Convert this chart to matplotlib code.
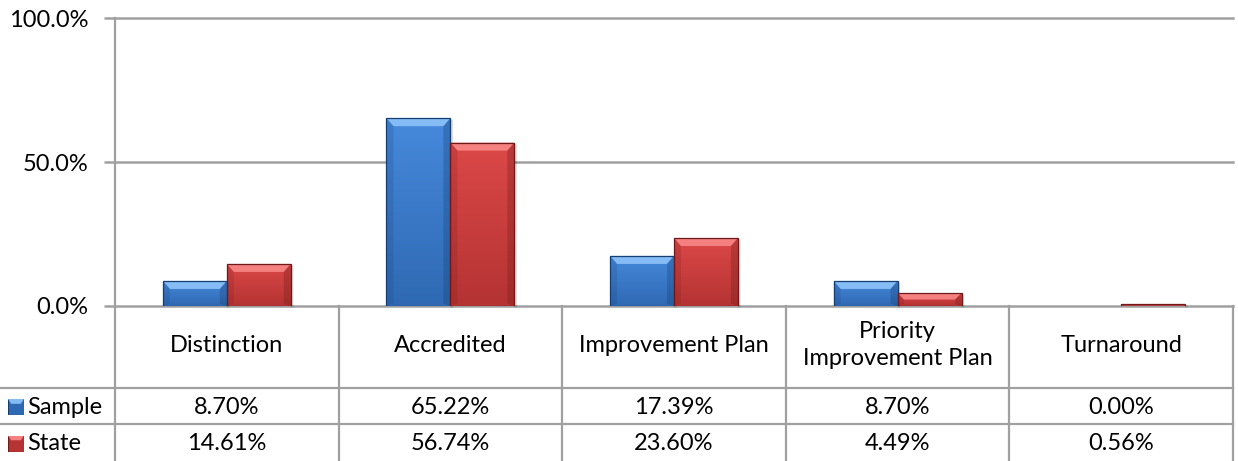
import matplotlib.pyplot as plt
from matplotlib.patches import Polygon
from matplotlib.colors import LinearSegmentedColormap
import numpy as np

plt.rcParams['font.family'] = ['Lato', 'DejaVu Sans']

categories = ['Distinction', 'Accredited', 'Improvement Plan',
              'Priority\nImprovement Plan', 'Turnaround']
sample = [8.70, 65.22, 17.39, 8.70, 0.00]
state = [14.61, 56.74, 23.60, 4.49, 0.56]
series_names = ['Sample', 'State']
yticks = [0, 50, 100]

# light top, dark bottom, top bevel, dark edge
blue = ('#4689db', '#2f69b3', '#86bcf5', '#173e72')
red = ('#dc4848', '#b53333', '#f58080', '#6e1a1a')

W, H = 1238, 461
fig = plt.figure(figsize=(W / 100, H / 100), dpi=100)
x0, x1, ytop, y0 = 115, 1233, 18, 306
ax = fig.add_axes([x0 / W, 1 - y0 / H, (x1 - x0) / W, (y0 - ytop) / H])

n = len(categories)
grid_c = '#a0a0a0'
fs = 17

for v in yticks:
    ax.axhline(v, color=grid_c, lw=1.8, zorder=1, clip_on=False)
ax.set_yticks(yticks)
ax.set_yticklabels([f'{v:.1f}%' for v in yticks], fontsize=fs)
ax.tick_params(axis='y', length=8, width=1.8, color=grid_c, pad=11)
ax.set_xticks([])
for s in ax.spines.values():
    s.set_visible(False)

# data units per pixel
ux = n / (x1 - x0)
uy = 100 / (y0 - ytop)

def bevel_bar(bar, cols):
    c_top, c_bot, bev, edge = cols
    bx, bw, bh = bar.get_x(), bar.get_width(), bar.get_height()
    if bh <= 0:
        bar.set_visible(False)
        return
    bar.set_facecolor('none')
    bar.set_edgecolor(edge)
    bar.set_linewidth(0.9)
    bar.set_zorder(4)
    # vertical gradient fill clipped to the bar
    grad = np.linspace(0, 1, 64).reshape(-1, 1)
    cmap = LinearSegmentedColormap.from_list('g', [c_bot, c_top])
    im = ax.imshow(grad, cmap=cmap, aspect='auto', origin='lower',
                   extent=(bx, bx + bw, 0, bh), zorder=2, interpolation='bilinear')
    im.set_clip_path(bar)
    d = min(8 * uy, bh / 2)
    dx = min(7 * ux, d / uy * ux)
    L, R, T = bx, bx + bw, bh
    polys = [
        ([(L, T), (R, T), (R - dx, T - d), (L + dx, T - d)], bev, 1.0),
        ([(L, 0), (L, T), (L + dx, T - d), (L + dx, d * 0.3)], edge, 0.18),
        ([(R, 0), (R, T), (R - dx, T - d), (R - dx, d * 0.3)], edge, 0.3),
    ]
    for pts, c, a in polys:
        ax.add_patch(Polygon(pts, closed=True, facecolor=c, edgecolor='none',
                             alpha=a, zorder=3))
    # shadow to the lower right
    ax.add_patch(Polygon([(R, -1.5 * uy), (R + 2.5 * ux, -1.5 * uy),
                          (R + 2.5 * ux, T - 2 * uy), (R, T)],
                         closed=True, facecolor='#000000', alpha=0.15,
                         edgecolor='none', zorder=1.5, clip_on=False))

x = np.arange(n)
bw = 0.286
bars_s = ax.bar(x - bw / 2, sample, bw, zorder=2)
bars_t = ax.bar(x + bw / 2, state, bw, zorder=2)
for b in bars_s:
    bevel_bar(b, blue)
for b in bars_t:
    bevel_bar(b, red)
ax.set_xlim(-0.5, n - 0.5)
ax.set_ylim(0, 100)

# data table below the plot
tf = fig.transFigure
def fx(px):
    return px / W
def fy(py):
    return 1 - py / H

row_y = [306, 388, 424, 461]
col_x = [x0 + (x1 - x0) * i / n for i in range(n + 1)]
lw = 1.6
fig.add_artist(plt.Line2D([fx(x0), fx(x0)], [fy(ytop), fy(H)], color=grid_c, lw=lw, transform=tf))
for cx in col_x[1:]:
    fig.add_artist(plt.Line2D([fx(cx), fx(cx)], [fy(y0), fy(H)], color=grid_c, lw=lw, transform=tf))
for ry in row_y[1:3]:
    fig.add_artist(plt.Line2D([0, fx(x1)], [fy(ry), fy(ry)], color=grid_c, lw=lw, transform=tf))

for i, cat in enumerate(categories):
    cx = (col_x[i] + col_x[i + 1]) / 2
    fig.text(fx(cx), fy(345), cat, ha='center', va='center',
             fontsize=fs, linespacing=1.3)
    fig.text(fx(cx), fy((row_y[1] + row_y[2]) / 2 + 1), f'{sample[i]:.2f}%',
             ha='center', va='center', fontsize=fs)
    fig.text(fx(cx), fy((row_y[2] + row_y[3]) / 2 + 1), f'{state[i]:.2f}%',
             ha='center', va='center', fontsize=fs)

for k, (name, cols) in enumerate(zip(series_names, [blue, red])):
    yc = (row_y[k + 1] + row_y[k + 2]) / 2 + 1
    ax_key = fig.add_axes([fx(8), fy(yc + 8), 16 / W, 16 / H])
    ax_key.set_xlim(0, 1)
    ax_key.set_ylim(0, 1)
    ax_key.axis('off')
    ax_key.add_patch(Polygon([(0, 0), (1, 0), (1, 1), (0, 1)], facecolor=cols[1],
                             edgecolor=cols[3], lw=0.8))
    ax_key.add_patch(Polygon([(0, 1), (1, 1), (0.8, 0.7), (0.2, 0.7)], facecolor=cols[2],
                             edgecolor='none'))
    fig.text(fx(27), fy(yc), name, ha='left', va='center', fontsize=fs)

fig.savefig('out.png', dpi=100)
